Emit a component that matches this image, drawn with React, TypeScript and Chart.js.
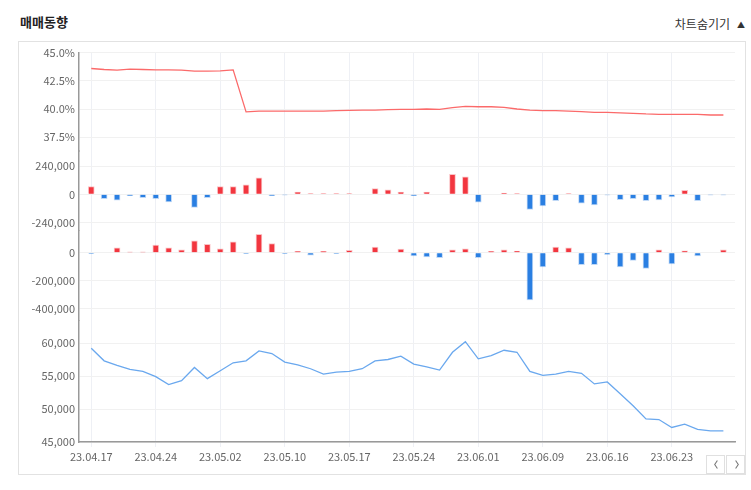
import { useEffect, useRef } from 'react'
import { Chart, registerables, type Scale } from 'chart.js'

Chart.register(...registerables)

const dates = [
  '23.04.17', '23.04.18', '23.04.19', '23.04.20', '23.04.21',
  '23.04.24', '23.04.25', '23.04.26', '23.04.27', '23.04.28',
  '23.05.02', '23.05.03', '23.05.04', '23.05.08', '23.05.09',
  '23.05.10', '23.05.11', '23.05.12', '23.05.15', '23.05.16',
  '23.05.17', '23.05.18', '23.05.19', '23.05.22', '23.05.23',
  '23.05.24', '23.05.25', '23.05.26', '23.05.30', '23.05.31',
  '23.06.01', '23.06.02', '23.06.05', '23.06.07', '23.06.08',
  '23.06.09', '23.06.12', '23.06.13', '23.06.14', '23.06.15',
  '23.06.16', '23.06.19', '23.06.20', '23.06.21', '23.06.22',
  '23.06.23', '23.06.26', '23.06.27', '23.06.28', '23.06.29',
]

// 외국인 보유율 (%)
const holdingRatio = [
  43.59, 43.5, 43.44, 43.53, 43.5, 43.47, 43.47, 43.44, 43.35, 43.35,
  43.38, 43.47, 39.74, 39.82, 39.82, 39.82, 39.82, 39.82, 39.82, 39.85,
  39.88, 39.9, 39.9, 39.94, 39.97, 39.97, 40.0, 39.97, 40.12, 40.24,
  40.2, 40.2, 40.15, 40.0, 39.9, 39.85, 39.85, 39.82, 39.76, 39.7,
  39.7, 39.65, 39.62, 39.56, 39.53, 39.53, 39.53, 39.53, 39.47, 39.47,
]

// 외국인 순매매
const foreignNet = [
  65000, -36000, -50000, -11000, -28000, -36000, -65000, 0, -112000, -28000,
  65000, 65000, 81000, 140000, -11000, -5000, 20000, 6000, 6000, 6000,
  6000, 0, 48000, 39000, 20000, -11000, 20000, 0, 171000, 149000,
  -67000, 0, 10000, 6000, -129000, -98000, -53000, 6000, -76000, -90000,
  -5000, -45000, -36000, -53000, -48000, -22000, 34000, -53000, -5000, -5000,
]

// 기관 순매매
const institutionNet = [
  -5000, 0, 36000, 5000, 5000, 55000, 36000, 22000, 86000, 60000,
  29000, 79000, -5000, 132000, 67000, -5000, 10000, -17000, 10000, -5000,
  17000, 0, 41000, 0, 27000, -22000, -29000, -36000, 22000, 29000,
  -36000, 10000, 22000, 12000, -340000, -101000, 41000, 36000, -86000, -86000,
  -12000, -101000, -55000, -113000, 22000, -81000, 14000, -22000, 0, 22000,
]

// 종가
const closePrice = [
  59200, 57300, 56600, 56000, 55700, 54900, 53700, 54300, 56300, 54600,
  55800, 57000, 57300, 58800, 58400, 57100, 56700, 56100, 55300, 55600,
  55700, 56100, 57300, 57500, 58000, 56800, 56400, 55900, 58600, 60200,
  57600, 58100, 58900, 58600, 55700, 55100, 55300, 55700, 55400, 53800,
  54100, 52300, 50500, 48500, 48400, 47200, 47700, 46900, 46700, 46700,
]

const ratioTicks = [45, 42.5, 40, 37.5]
const foreignTicks = [240000, 0, -240000]
const institutionTicks = [0, -200000, -400000]
const priceTicks = [60000, 55000, 50000, 45000]
const dateTickIndexes = [0, 5, 10, 15, 20, 25, 30, 35, 40, 45]

const RED = '#f2363f'
const BLUE = '#2a7fe2'
const TICK_FONT = { family: '"Noto Sans CJK KR", "Noto Sans", sans-serif', size: 11 }

const asPoints = (values: number[]) => values.map((y, x) => ({ x, y }))
const withComma = (n: number) => n.toLocaleString('en-US')

function fixedTicks(values: number[]) {
  return (scale: Scale) => {
    scale.ticks = values.map((value) => ({ value }))
  }
}

function panelScale(
  min: number,
  max: number,
  stackWeight: number,
  weight: number,
  ticks: number[],
  format: (n: number) => string,
) {
  return {
    type: 'linear' as const,
    position: 'left' as const,
    stack: 'panels',
    stackWeight,
    weight,
    min,
    max,
    afterBuildTicks: fixedTicks(ticks),
    afterFit: (scale: Scale) => {
      scale.width = 60
    },
    grid: { color: '#f1f1f1', drawTicks: false },
    border: { color: '#999', width: 1.5 },
    ticks: {
      color: '#666',
      font: TICK_FONT,
      padding: 4,
      callback: (v: string | number) => format(Number(v)),
    },
  }
}

function barDataset(values: number[], axis: string) {
  return {
    type: 'bar' as const,
    data: asPoints(values),
    yAxisID: axis,
    grouped: false,
    barThickness: 6,
    borderWidth: 1,
    backgroundColor: values.map((v) => (v >= 0 ? RED : BLUE)),
    borderColor: values.map((v) => (v >= 0 ? 'rgba(242,54,63,0.3)' : 'rgba(42,127,226,0.3)')),
  }
}

function NavButton({ dir }: { dir: 'prev' | 'next' }) {
  const points = dir === 'prev' ? '8,5 5,9.5 8,14' : '6,5 9,9.5 6,14'
  return (
    <div
      style={{
        width: 19,
        height: 19,
        boxSizing: 'border-box',
        border: '1px solid #e0e0e0',
        background: '#fff',
      }}
    >
      <svg width="17" height="17" viewBox="0 0 14 19" style={{ display: 'block', marginLeft: 1 }}>
        <polyline points={points} fill="none" stroke="#777" strokeWidth="1.2" />
      </svg>
    </div>
  )
}

export default function App() {
  const canvasRef = useRef<HTMLCanvasElement>(null)

  useEffect(() => {
    const canvas = canvasRef.current
    if (!canvas) return
    Chart.getChart(canvas)?.destroy()

    const chart = new Chart(canvas, {
      type: 'bar',
      data: {
        datasets: [
          {
            type: 'line',
            data: asPoints(holdingRatio),
            yAxisID: 'ratio',
            borderColor: '#fb6a6a',
            borderWidth: 1.3,
            pointRadius: 0,
            tension: 0,
          },
          barDataset(foreignNet, 'foreign'),
          barDataset(institutionNet, 'institution'),
          {
            type: 'line',
            data: asPoints(closePrice),
            yAxisID: 'price',
            borderColor: '#6aa8ee',
            borderWidth: 1.3,
            pointRadius: 0,
            tension: 0,
          },
        ] as any,
      },
      options: {
        responsive: false,
        animation: false,
        layout: { padding: { top: 9, right: 9, left: 0, bottom: 0 } },
        plugins: { legend: { display: false }, tooltip: { enabled: false } },
        scales: {
          x: {
            type: 'linear',
            offset: false,
            min: -0.95,
            max: 49.9,
            afterBuildTicks: (scale: Scale) => {
              scale.ticks = dateTickIndexes.map((value) => ({ value }))
            },
            afterFit: (scale: Scale) => {
              scale.height = 32
            },
            grid: { color: '#eef0f5', tickLength: 5, offset: false },
            border: { color: '#999', width: 1.5 },
            ticks: {
              color: '#666',
              font: TICK_FONT,
              padding: 3,
              maxRotation: 0,
              autoSkip: false,
              callback: (v: string | number) => dates[Number(v)] ?? '',
            },
          },
          ratio: panelScale(36.26, 45, 99, 4, ratioTicks, (n) => n.toFixed(1) + '%'),
          foreign: panelScale(-311000, 367000, 80, 3, foreignTicks, withComma),
          institution: panelScale(-487400, 157700, 90, 2, institutionTicks, withComma),
          price: panelScale(45000, 63410, 122, 1, priceTicks, withComma),
        } as any,
      },
    })

    return () => {
      chart.destroy()
    }
  }, [])

  return (
    <div
      style={{
        position: 'fixed',
        left: 0,
        top: 0,
        width: 751,
        height: 490,
        background: '#fff',
        fontFamily: '"Noto Sans CJK KR", sans-serif',
      }}
    >
      <div
        style={{
          position: 'absolute',
          left: 20,
          top: 13,
          fontSize: 13,
          lineHeight: '18px',
          fontWeight: 700,
          color: '#222',
        }}
      >
        매매동향
      </div>
      <div
        style={{
          position: 'absolute',
          right: 6,
          top: 15,
          fontSize: 12,
          lineHeight: '18px',
          color: '#333',
        }}
      >
        차트숨기기
        <span style={{ fontSize: 8, verticalAlign: 1, marginLeft: 7 }}>▲</span>
      </div>
      <div
        style={{
          position: 'absolute',
          left: 18,
          top: 41,
          width: 728,
          height: 434,
          boxSizing: 'border-box',
          border: '1px solid #e2e2e2',
        }}
      >
        <canvas ref={canvasRef} width={725} height={432} style={{ display: 'block' }} />
        <div style={{ position: 'absolute', right: 0, bottom: 0, display: 'flex', gap: 1 }}>
          <NavButton dir="prev" />
          <NavButton dir="next" />
        </div>
      </div>
    </div>
  )
}
